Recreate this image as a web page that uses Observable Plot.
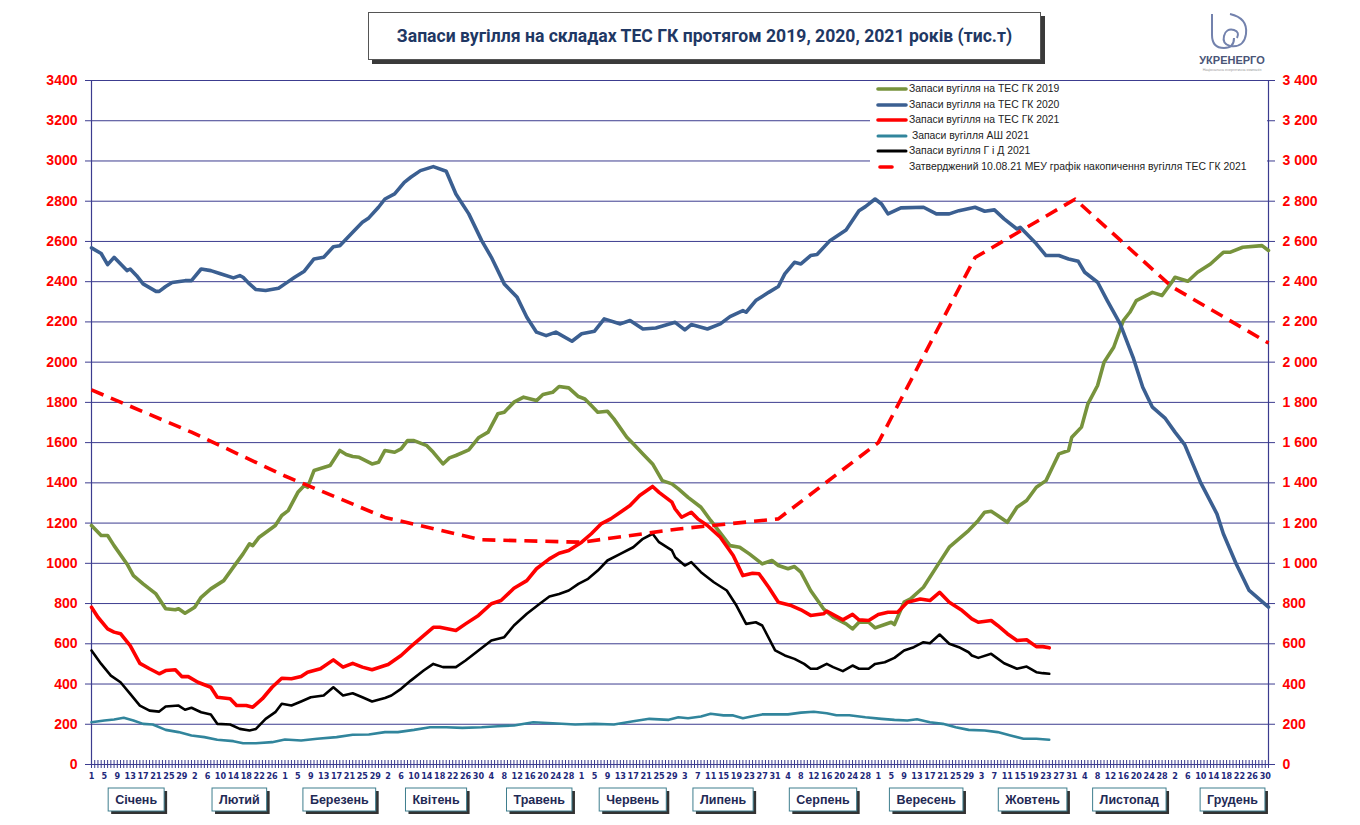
<!DOCTYPE html>
<html>
<head>
<meta charset="utf-8">
<script src="https://cdn.jsdelivr.net/npm/d3@7"></script>
<script src="https://cdn.jsdelivr.net/npm/@observablehq/plot@0.6"></script>
<style>
  body { margin: 0; background: #fff; }
  #wrap { position: relative; width: 1360px; height: 825px; overflow: hidden; font-family: "Liberation Sans", Arial, sans-serif; }
  #wrap > svg.chart { position: absolute; left: 0; top: 0; display: block; }
  #title { position: absolute; left: 368px; top: 12px; width: 671px; height: 46px; border: 1px solid #555; background: #fff;
           box-shadow: 4px 4px 0 #3a3a3a; display: flex; align-items: center; justify-content: center;
           font-family: Roboto, "Liberation Sans", sans-serif; font-weight: bold; font-size: 17.6px; color: #1F3864; }
  #legend { position: absolute; left: 870px; top: 81px; width: 397px; height: 97px; background: #fff; }
  .lg-row { position: absolute; left: 0; height: 14px; font-size: 10.4px; color: #222; white-space: pre; }
  .lg-row svg { position: absolute; left: 6px; top: 0; }
  .lg-row span { position: absolute; left: 39px; top: 0; line-height: 14px; }
  #logo { position: absolute; left: 1190px; top: 8px; }
</style>
</head>
<body>
<div id="wrap">
  <div id="title">Запаси вугілля на складах ТЕС ГК протягом 2019, 2020, 2021 років (тис.т)</div>
  <div id="legend"></div>
  <svg id="logo" width="84" height="66" viewBox="0 0 84 66">
    <path d="M22,6 L22,27 Q22,40 34,40 Q44,40 44,30" fill="none" stroke="#7382AD" stroke-width="2"/>
    <path d="M40,6 Q58,10 56,26 Q54,40 40,38 Q32,36 34,28 Q36,20 44,22 Q50,24 47,30" fill="none" stroke="#7382AD" stroke-width="2"/>
    <text x="42" y="56" text-anchor="middle" font-family="Liberation Sans, Arial" font-weight="bold" font-size="11" fill="#4A5577">УКРЕНЕРГО</text>
    <text x="42" y="63" text-anchor="middle" font-family="Liberation Sans, Arial" font-size="3.6" fill="#999">Національна енергетична компанія</text>
  </svg>
</div>
<script>
// ---------- data ----------
const seriesNames = [
  "Запаси вугілля на ТЕС ГК 2019",
  "Запаси вугілля на ТЕС ГК 2020",
  "Запаси вугілля на ТЕС ГК 2021",
  " Запаси вугілля АШ 2021",
  "Запаси вугілля Г і Д 2021",
  "Затверджений 10.08.21 МЕУ графік накопичення вугілля ТЕС ГК 2021"
];
const seriesColors = ["#77933C", "#3B5F91", "#FF0000", "#31859C", "#000000", "#FF0000"];

const monthNames = ["Січень","Лютий","Березень","Квітень","Травень","Червень","Липень","Серпень","Вересень","Жовтень","Листопад","Грудень"];
const monthPos = [15, 47, 78, 108, 140, 169, 197, 228, 260, 293, 323, 355];

const yTicks = [0,200,400,600,800,1000,1200,1400,1600,1800,2000,2200,2400,2600,2800,3000,3200,3400];

const tickDays = [1,5,9,13,17,21,25,29,33,37,41,45,49,53,57,61,65,69,73,77,81,85,89,93,97,101,105,109,113,117,121,125,129,133,137,141,145,149,153,157,161,165,169,173,177,181,185,189,193,197,201,205,209,213,217,221,225,229,233,237,241,245,249,253,257,261,265,269,273,277,281,285,289,293,297,301,305,309,313,317,321,325,329,333,337,341,345,349,353,357,361,365];
const tickLabels = ["1","5","9","13","17","21","25","29","2","6","10","14","18","22","26","1","5","9","13","17","21","25","29","2","6","10","14","18","22","26","30","4","8","12","16","20","24","28","1","5","9","13","17","21","25","29","3","7","11","15","19","23","27","31","4","8","12","16","20","24","28","1","5","9","13","17","21","25","29","3","7","11","15","19","23","27","31","4","8","12","16","20","24","28","2","6","10","14","18","22","26","30"];

// [day of year, thousand tonnes]
const s2019 = [[1,1188],[4,1138],[6,1138],[8,1088],[12,997],[14,939],[17,898],[21,848],[24,774],[27,769],[28,774],[30,752],[33,782],[35,831],[38,873],[42,914],[45,981],[48,1047],[50,1097],[51,1088],[53,1130],[58,1188],[60,1238],[62,1262],[65,1353],[67,1387],[68,1378],[70,1461],[75,1486],[78,1561],[80,1541],[82,1531],[84,1527],[88,1494],[90,1502],[92,1561],[95,1552],[97,1569],[99,1610],[101,1610],[105,1585],[107,1552],[110,1494],[112,1524],[114,1536],[118,1564],[121,1624],[124,1652],[127,1743],[129,1751],[132,1801],[135,1826],[139,1809],[141,1839],[144,1850],[146,1879],[149,1872],[152,1829],[154,1817],[156,1784],[158,1751],[161,1756],[163,1718],[167,1627],[169,1594],[172,1544],[175,1494],[178,1411],[181,1395],[183,1370],[186,1328],[190,1279],[193,1213],[197,1130],[199,1088],[202,1080],[205,1047],[209,997],[212,1014],[214,989],[217,973],[219,984],[221,956],[224,865],[228,774],[231,732],[235,699],[237,674],[239,707],[242,707],[244,679],[247,696],[249,707],[250,696],[253,807],[255,823],[259,881],[263,981],[267,1080],[270,1122],[273,1163],[276,1213],[278,1254],[280,1259],[282,1238],[285,1204],[288,1279],[291,1312],[294,1378],[297,1411],[299,1478],[301,1544],[304,1561],[305,1627],[308,1677],[310,1793],[313,1884],[315,2000],[318,2074],[321,2207],[323,2248],[325,2306],[327,2322],[330,2347],[333,2331],[336,2397],[337,2422],[341,2402],[344,2447],[348,2488],[352,2546],[354,2546],[358,2571],[364,2579],[366,2555]];

const s2020 = [[1,2568],[4,2540],[6,2485],[8,2521],[12,2455],[13,2463],[15,2430],[17,2389],[21,2352],[22,2352],[24,2376],[26,2396],[30,2405],[32,2405],[35,2463],[38,2455],[41,2439],[45,2419],[47,2430],[48,2422],[50,2389],[52,2361],[55,2356],[59,2367],[61,2389],[64,2422],[67,2452],[70,2513],[73,2521],[76,2574],[78,2579],[82,2646],[85,2695],[87,2717],[90,2770],[92,2811],[95,2836],[98,2894],[100,2919],[103,2952],[107,2972],[111,2949],[114,2836],[118,2737],[122,2604],[125,2521],[129,2389],[133,2322],[136,2223],[139,2149],[142,2132],[145,2149],[150,2104],[153,2141],[157,2154],[160,2215],[165,2190],[168,2207],[172,2165],[176,2170],[182,2198],[185,2160],[187,2187],[192,2165],[196,2190],[199,2226],[203,2256],[204,2248],[207,2306],[211,2347],[214,2376],[216,2439],[219,2496],[221,2488],[224,2530],[226,2535],[230,2604],[235,2657],[239,2753],[241,2773],[244,2811],[246,2786],[248,2737],[252,2767],[259,2770],[263,2737],[267,2737],[270,2753],[275,2770],[278,2750],[281,2757],[284,2712],[288,2662],[289,2670],[294,2588],[297,2530],[301,2530],[304,2513],[307,2501],[309,2447],[313,2397],[316,2306],[320,2190],[324,2024],[327,1875],[330,1776],[334,1720],[337,1652],[340,1590],[345,1400],[350,1246],[352,1147],[356,997],[360,865],[366,782]];

const s2021 = [[1,782],[3,732],[6,674],[8,658],[10,650],[13,591],[16,503],[19,476],[22,451],[24,467],[27,471],[29,437],[31,437],[34,409],[38,384],[40,334],[44,327],[46,293],[49,293],[51,285],[54,327],[57,384],[60,429],[63,426],[66,437],[68,459],[72,476],[76,520],[79,484],[82,503],[85,484],[88,471],[92,492],[93,497],[97,542],[100,586],[104,641],[107,682],[109,682],[114,666],[117,699],[121,741],[125,799],[128,815],[132,876],[136,914],[139,973],[143,1022],[146,1050],[149,1064],[153,1105],[156,1147],[159,1196],[162,1221],[165,1254],[168,1287],[171,1337],[175,1382],[177,1353],[181,1304],[182,1270],[184,1229],[187,1254],[189,1221],[192,1188],[196,1130],[200,1039],[203,939],[206,951],[208,948],[211,881],[214,807],[218,790],[221,769],[224,741],[228,749],[229,762],[234,719],[237,746],[239,719],[242,716],[245,746],[248,757],[251,757],[254,807],[258,823],[261,815],[264,856],[267,807],[271,765],[274,724],[276,707],[280,716],[282,691],[285,650],[288,616],[291,620],[294,586],[296,586],[298,580]];

const sAsh = [[1,210],[5,219],[8,224],[11,232],[14,219],[17,202],[20,199],[24,172],[28,161],[32,144],[36,136],[40,123],[45,116],[48,106],[52,106],[57,111],[61,124],[66,119],[71,128],[77,136],[82,148],[87,149],[92,161],[96,161],[101,172],[106,185],[111,185],[116,182],[122,185],[127,190],[132,194],[138,210],[144,205],[151,199],[157,202],[163,199],[169,215],[174,227],[180,222],[183,235],[186,230],[190,239],[193,252],[197,244],[200,244],[203,230],[206,240],[209,249],[213,249],[217,249],[221,258],[225,262],[229,255],[232,245],[236,245],[241,235],[246,227],[250,222],[254,219],[257,225],[261,210],[265,202],[269,185],[273,172],[278,169],[282,161],[286,144],[290,128],[294,128],[298,123]];

const sGD = [[1,567],[4,500],[7,442],[10,409],[13,351],[16,293],[19,268],[22,263],[24,288],[28,293],[30,272],[32,282],[35,260],[38,248],[40,202],[44,199],[47,177],[50,169],[52,177],[55,227],[58,260],[60,302],[63,293],[66,313],[69,334],[73,343],[76,384],[79,343],[82,354],[85,334],[88,313],[92,331],[94,343],[97,376],[100,417],[104,467],[107,500],[110,484],[114,484],[117,517],[121,567],[125,616],[129,633],[132,691],[136,749],[140,799],[143,835],[146,848],[149,865],[152,898],[155,923],[158,964],[161,1014],[165,1047],[169,1080],[172,1122],[175,1147],[177,1105],[181,1064],[182,1030],[185,989],[187,1006],[190,956],[194,906],[198,865],[201,790],[204,699],[207,707],[209,691],[213,567],[216,542],[219,525],[222,500],[224,476],[226,476],[229,500],[231,484],[234,464],[237,492],[239,476],[242,476],[244,500],[247,508],[250,530],[253,567],[256,583],[259,608],[261,603],[264,646],[267,600],[270,583],[273,558],[274,542],[276,530],[280,550],[284,503],[288,476],[291,487],[294,459],[296,454],[298,451]];

const sPlan = [[1,1862],[32,1652],[61,1434],[92,1228],[122,1117],[153,1105],[183,1171],[214,1221],[245,1600],[275,2520],[306,2810],[336,2375],[366,2095]];

// ---------- chart ----------
const GRID = "#3C3C8F";
const NAVY = "#1F2A7A";
const rows = s => s.map(([day, v]) => ({day, v}));
const allDays = d3.range(1, 367);
const labelOf = new Map(tickDays.map((d, i) => [d, tickLabels[i]]));

const lineStyles = [
  {data: s2019, w: 3.6},
  {data: s2020, w: 3.6},
  {data: s2021, w: 3.6},
  {data: sAsh, w: 2.6},
  {data: sGD, w: 2.6},
  {data: sPlan, w: 3.6, dash: "13,8"}
];

const chart = Plot.plot({
  width: 1360,
  height: 825,
  marginTop: 80,
  marginBottom: 61,
  marginLeft: 91,
  marginRight: 92,
  className: "chart",
  style: {background: "transparent", fontFamily: "'Liberation Sans', Arial, sans-serif"},
  x: {domain: [1, 366]},
  y: {domain: [0, 3400]},
  marks: [
    Plot.gridY({ticks: yTicks, stroke: GRID, strokeOpacity: 1, strokeWidth: 1}),
    Plot.ruleX([1, 366], {stroke: GRID, strokeWidth: 1.2}),
    Plot.axisY({anchor: "left", ticks: yTicks, tickSize: 6, tickPadding: 8, tickFormat: d => String(d),
                stroke: GRID, fill: "#FF0000", fontSize: 14, fontWeight: "bold", label: null}),
    Plot.axisY({anchor: "right", ticks: yTicks, tickSize: 6, tickPadding: 8,
                tickFormat: d => d3.format(",")(d).replace(",", " "),
                stroke: GRID, fill: "#FF0000", fontSize: 14, fontWeight: "bold", label: null}),
    Plot.axisX({ticks: allDays, tickSize: 8, dy: -4, stroke: GRID, fill: "none", label: null}),
    Plot.axisX({ticks: tickDays, tickSize: 0, tickPadding: 8, tickFormat: d => labelOf.get(d),
                fill: NAVY, fontSize: 9, fontWeight: "bold",
                fontFamily: "'Liberation Sans Narrow', 'DejaVu Sans Condensed', 'Liberation Sans', sans-serif",
                label: null, ariaLabel: "day-labels"}),
    ...lineStyles.map((s, i) => Plot.line(rows(s.data), {
      x: "day", y: "v", stroke: seriesColors[i], strokeWidth: s.w,
      strokeDasharray: s.dash, strokeLinejoin: "round", strokeLinecap: s.dash ? "butt" : "round"
    }))
  ]
});

const wrap = document.getElementById("wrap");
wrap.insertBefore(chart, wrap.firstChild);

// condense the small day labels
d3.select(chart).selectAll('g[aria-label="day-labels"] text').style("letter-spacing", "-0.8px");

// month boxes under the axis, positioned with the x scale
const sx = chart.scale("x");
const svg = d3.select(chart);
const boxTop = 788, boxH = 23;
monthNames.forEach((m, i) => {
  const cx = sx.apply(monthPos[i]);
  const g = svg.append("g");
  const shadow = g.append("rect");
  const box = g.append("rect");
  const t = g.append("text")
    .attr("x", cx).attr("y", boxTop + 16)
    .attr("text-anchor", "middle")
    .attr("font-family", "'Liberation Sans', Arial, sans-serif")
    .attr("font-weight", "bold").attr("font-size", 12.5)
    .attr("fill", "#1F2A55")
    .text(m);
  const w = t.node().getComputedTextLength() + 14;
  shadow.attr("x", cx - w / 2 + 3).attr("y", boxTop + 3).attr("width", w).attr("height", boxH).attr("fill", "#333");
  box.attr("x", cx - w / 2).attr("y", boxTop).attr("width", w).attr("height", boxH)
     .attr("fill", "#fff").attr("stroke", "#3F7E8E").attr("stroke-width", 1);
});

// legend (inside plot area, top right)
const legend = document.getElementById("legend");
seriesNames.forEach((name, i) => {
  const row = document.createElement("div");
  row.className = "lg-row";
  row.style.top = (1 + i * 15.5) + "px";
  const dashed = i === seriesNames.length - 1;
  row.innerHTML =
    `<svg width="32" height="14"><line x1="${dashed ? 4 : 2}" x2="${dashed ? 16 : 30}" y1="7" y2="7" stroke="${seriesColors[i]}" stroke-width="${i === 3 || i === 4 ? 3 : 3.6}" stroke-linecap="round"/></svg><span></span>`;
  row.querySelector("span").textContent = name;
  legend.appendChild(row);
});
</script>
</body>
</html>
